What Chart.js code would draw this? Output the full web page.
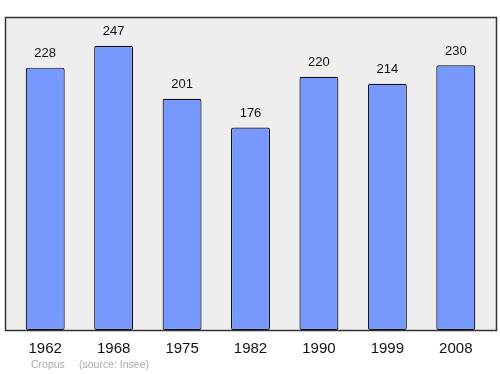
<!DOCTYPE html>
<html>
<head>
<meta charset="utf-8">
<script src="https://cdn.jsdelivr.net/npm/chart.js@4"></script>
<style>
  html, body { margin: 0; padding: 0; background: #fff; }
  canvas { display: block; }
</style>
</head>
<body>
<canvas id="popChart" width="500" height="374"></canvas>
<script>
// données
const years = ['1962', '1968', '1975', '1982', '1990', '1999', '2008'];
const population = [228, 247, 201, 176, 220, 214, 230];
const yMax = 272;
const commune = 'Cropus';
const source = '(source: Insee)';

// fond gris + cadre
const boxPlugin = {
    id: 'box',
    beforeDraw(chart) {
        const c = chart.ctx;
        const a = chart.chartArea;
        c.save();
        c.fillStyle = '#eeeeee';
        c.fillRect(5, a.top, 492, a.bottom - a.top);
        c.strokeStyle = '#333333';
        c.lineWidth = 1.5;
        c.strokeRect(5.5, a.top + 0.5, 491, a.bottom - a.top);
        c.restore();
    },
    afterDatasetsDraw(chart) {
        const c = chart.ctx;
        const meta = chart.getDatasetMeta(0);
        c.save();
        c.fillStyle = '#111111';
        c.font = '13px "Liberation Sans", Arial, sans-serif';
        c.textAlign = 'center';
        c.textBaseline = 'middle';
        meta.data.forEach((bar, i) => {
            c.fillText(String(population[i]), bar.x, bar.y - 14);
        });
        // source
        c.fillStyle = '#aaaaaa';
        c.font = '10.5px "Liberation Sans", Arial, sans-serif';
        c.textAlign = 'left';
        c.fillText(commune, 31, 365);
        c.fillText(source, 79, 365);
        c.restore();
    }
};

const ctx = document.getElementById('popChart').getContext('2d');
new Chart(ctx, {
    type: 'bar',
    data: {
        labels: years,
        datasets: [{
            data: population,
            backgroundColor: '#7799ff',
            borderColor: '#111111',
            borderWidth: 1.2,
            borderRadius: 2,
            borderSkipped: false,
            categoryPercentage: 1,
            barPercentage: 0.57,
        }],
    },
    options: {
        responsive: false,
        animation: false,
        layout: { padding: { left: 11, right: 10, top: 17, bottom: 0 } },
        plugins: { legend: { display: false }, tooltip: { enabled: false } },
        scales: {
            x: {
                grid: { display: false, drawTicks: false },
                border: { display: false },
                ticks: {
                    color: '#111111',
                    padding: 10,
                    font: { family: '"Liberation Sans", Arial, sans-serif', size: 15 },
                },
                afterFit(scale) { scale.height = 44; },
            },
            y: {
                display: false,
                min: 0,
                max: yMax,
            },
        },
    },
    plugins: [boxPlugin],
});
</script>
</body>
</html>
